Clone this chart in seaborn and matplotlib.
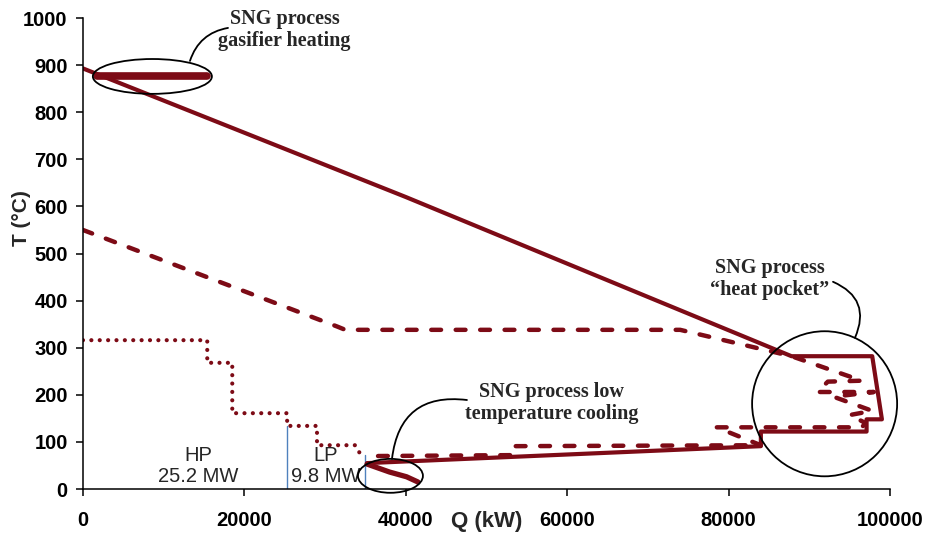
import seaborn as sns
import matplotlib.pyplot as plt
from matplotlib.patches import Ellipse

# curvas (Q en kW, T en °C)
solid_q = [0, 40000, 87800, 97800, 99000, 97100, 97100, 84000, 84000, 35200]
solid_t = [893, 620, 282, 282, 148, 148, 122, 122, 91, 55]

gasif_q = [1800, 15400]
gasif_t = [877, 877]

low_q = [35200, 38000, 40100, 41500]
low_t = [53, 36, 26, 15]

dash_q = [0, 31500, 32500, 74000, 87800, 96500, 92300, 91000, 98000, 93000,
          97800, 95000, 97000, 96500, 78500, 84000, 53500, 53500, 36000]
dash_t = [550, 345, 338, 338, 282, 230, 228, 206, 206, 196,
          166, 157, 140, 131, 131, 93, 91, 72, 70]

dot_q = [0, 15400, 15400, 18500, 18500, 25300, 25300, 29000, 29000, 33700, 34600]
dot_t = [316, 316, 268, 268, 161, 161, 134, 134, 93, 93, 68]

hp_q, hp_t = [25300, 25300], [0, 134]
lp_q, lp_t = [34900, 34900], [0, 72]

xticks = [0, 20000, 40000, 60000, 80000, 100000]
yticks = list(range(0, 1001, 100))

red = '#7d0b16'
blue = '#4f81bd'

sns.set_style("ticks")
plt.rcParams['font.family'] = ['Liberation Sans', 'DejaVu Sans']

fig = plt.figure(figsize=(9.26, 5.4), dpi=100)
ax = fig.add_axes([0.0896, 0.0944, 0.8715, 0.8722])

sns.lineplot(x=hp_q, y=hp_t, sort=False, estimator=None, color=blue, lw=1.0, ax=ax)
sns.lineplot(x=lp_q, y=lp_t, sort=False, estimator=None, color=blue, lw=1.0, ax=ax)

sns.lineplot(x=dot_q, y=dot_t, sort=False, estimator=None, color=red, lw=3.0,
             linestyle=(0, (0.01, 2.0)), dash_capstyle='round', ax=ax)
sns.lineplot(x=dash_q, y=dash_t, sort=False, estimator=None, color=red, lw=3.2,
             linestyle=(0, (2.2, 3.3)), dash_capstyle='round', ax=ax)
sns.lineplot(x=solid_q, y=solid_t, sort=False, estimator=None, color=red, lw=3.0, ax=ax)
sns.lineplot(x=gasif_q, y=gasif_t, sort=False, estimator=None, color=red, lw=5.5, ax=ax)
sns.lineplot(x=low_q, y=low_t, sort=False, estimator=None, color=red, lw=3.8,
             solid_capstyle='round', ax=ax)

ax.set_xlim(0, 100000)
ax.set_ylim(0, 1000)
ax.set_xticks(xticks)
ax.set_yticks(yticks)
sns.despine(ax=ax)
for s in ['left', 'bottom']:
    ax.spines[s].set_color('black')
    ax.spines[s].set_linewidth(1.1)
ax.tick_params(axis='both', direction='out', length=5, width=1.1, colors='black', labelsize=14.5)
ax.tick_params(axis='x', pad=11)
ax.tick_params(axis='y', pad=6)
for lab in ax.get_xticklabels() + ax.get_yticklabels():
    lab.set_fontweight('bold')

ax.set_xlabel('Q (kW)', fontsize=16, fontweight='bold')
ax.xaxis.set_label_coords(0.5, -0.046)
ax.set_ylabel('T (°C)', fontsize=15, fontweight='bold', va='center')
ax.yaxis.set_label_coords(-0.076, 0.575)

# elipses de los comentarios
ell_kw = dict(fill=False, ec='black', lw=1.3, clip_on=False, zorder=5)
ax.add_patch(Ellipse((8600, 876), 14750, 74, **ell_kw))
ax.add_patch(Ellipse((91900, 181), 17970, 308, **ell_kw))
ax.add_patch(Ellipse((38100, 28), 8050, 72, **ell_kw))

serif = ['Liberation Serif', 'DejaVu Serif']
ax.text(25000, 975, 'SNG process\ngasifier heating', ha='center', va='center',
        fontsize=14.5, fontweight='bold', family=serif, linespacing=1.1)
ax.text(85100, 446, 'SNG process\n\u201cheat pocket\u201d', ha='center', va='center',
        fontsize=14.5, fontweight='bold', family=serif, linespacing=1.1)
ax.text(58100, 183, 'SNG process low\ntemperature cooling', ha='center', va='center',
        fontsize=14.5, fontweight='bold', family=serif, linespacing=1.1)

ax.text(14300, 49, 'HP\n25.2 MW', ha='center', va='center', fontsize=14.5, linespacing=1.1)
ax.text(30100, 49, 'LP\n9.8 MW', ha='center', va='center', fontsize=14.5, linespacing=1.1)

# conectores
con_kw = dict(arrowstyle='-', color='black', lw=1.3, shrinkA=0, shrinkB=0)
ax.annotate('', xy=(17970, 979), xytext=(13260, 909),
            arrowprops=dict(connectionstyle='arc3,rad=-0.3', **con_kw), annotation_clip=False)
ax.annotate('', xy=(95660, 321), xytext=(92940, 440),
            arrowprops=dict(connectionstyle='arc3,rad=-0.5', **con_kw), annotation_clip=False)
ax.annotate('', xy=(47580, 189), xytext=(38290, 64),
            arrowprops=dict(connectionstyle='arc3,rad=-0.5', **con_kw), annotation_clip=False)

fig.savefig('out.png', dpi=100)
